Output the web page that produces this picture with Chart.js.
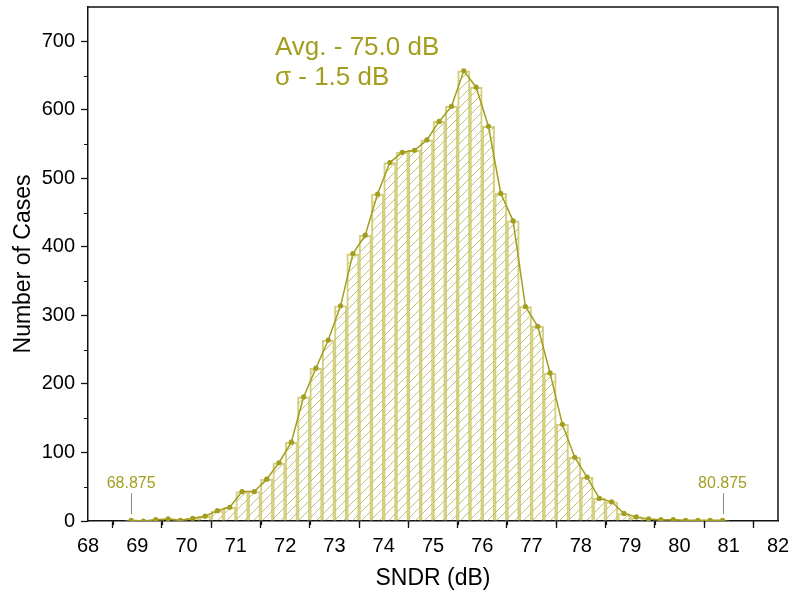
<!DOCTYPE html>
<html>
<head>
<meta charset="utf-8">
<script src="https://cdn.jsdelivr.net/npm/chart.js@4/dist/chart.umd.min.js"></script>
<style>
  html, body { margin: 0; padding: 0; background: #ffffff; }
  #wrap { width: 794px; height: 597px; }
</style>
</head>
<body>
<div id="wrap"><canvas id="c" width="794" height="597"></canvas></div>
<script>
// SNDR histogram: bin centres (dB) and number of cases per 0.25 dB bin
const binCenters = [68.875, 69.125, 69.375, 69.625, 69.875, 70.125, 70.375, 70.625, 70.875,
  71.125, 71.375, 71.625, 71.875, 72.125, 72.375, 72.625, 72.875, 73.125, 73.375,
  73.625, 73.875, 74.125, 74.375, 74.625, 74.875, 75.125, 75.375, 75.625, 75.875,
  76.125, 76.375, 76.625, 76.875, 77.125, 77.375, 77.625, 77.875, 78.125, 78.375,
  78.625, 78.875, 79.125, 79.375, 79.625, 79.875, 80.125, 80.375, 80.625, 80.875];
const caseCounts = [1, 0, 2, 3, 1, 4, 7, 15, 20,
  43, 43, 61, 85, 115, 181, 223, 264, 314, 390,
  417, 477, 523, 538, 541, 556, 583, 605, 657, 633,
  576, 478, 438, 313, 284, 216, 141, 93, 64, 33,
  28, 11, 6, 3, 2, 2, 1, 1, 1, 1];
const xTickRange = [68, 82];
const yTickRange = [0, 750];
const avgText = 'Avg. - 75.0 dB';
const sigmaText = '\u03c3 - 1.5 dB';
const edgeLabels = ['68.875', '80.875'];

const OLIVE = '#a39e1f';
const FONT = "'Liberation Sans', Arial, sans-serif";

// diagonal hatch fill for the bars
function makeHatch() {
  const s = 9;
  const p = document.createElement('canvas');
  p.width = s; p.height = s;
  const g = p.getContext('2d');
  g.strokeStyle = 'rgba(176,170,60,0.9)';
  g.lineWidth = 0.8;
  g.beginPath();
  g.moveTo(0, s); g.lineTo(s, 0);
  g.moveTo(-1, 1); g.lineTo(1, -1);
  g.moveTo(s - 1, s + 1); g.lineTo(s + 1, s - 1);
  g.stroke();
  return document.getElementById('c').getContext('2d').createPattern(p, 'repeat');
}

const barPoints = binCenters.map((x, i) => ({ x: x, y: caseCounts[i] }));
const linePoints = binCenters.map((x, i) => ({ x: x, y: caseCounts[i] }));

// frame, minor ticks and text annotations
const decorations = {
  id: 'decorations',
  afterDraw(chart) {
    const { ctx, chartArea: a, scales: { x, y } } = chart;
    ctx.save();
    ctx.strokeStyle = '#111';
    ctx.lineWidth = 1.5;
    ctx.beginPath();
    ctx.moveTo(a.left, a.top); ctx.lineTo(a.right, a.top); ctx.lineTo(a.right, a.bottom);
    ctx.stroke();

    ctx.lineWidth = 1.2;
    ctx.beginPath();
    for (let v = xTickRange[0] + 0.5; v < xTickRange[1]; v += 1) {
      const px = Math.round(x.getPixelForValue(v)) + 0.5;
      ctx.moveTo(px, a.bottom); ctx.lineTo(px, a.bottom + 4);
    }
    for (let v = 50; v < yTickRange[1]; v += 100) {
      const py = Math.round(y.getPixelForValue(v)) + 0.5;
      ctx.moveTo(a.left, py); ctx.lineTo(a.left - 4, py);
    }
    ctx.stroke();

    // mean / sigma text
    ctx.fillStyle = OLIVE;
    ctx.font = '26px ' + FONT;
    ctx.textAlign = 'left';
    ctx.textBaseline = 'alphabetic';
    ctx.fillText(avgText, 275, 55);
    ctx.fillText(sigmaText, 275, 85);

    // first / last bin markers
    const ends = [binCenters[0], binCenters[binCenters.length - 1]];
    ctx.font = '16px ' + FONT;
    ctx.textAlign = 'center';
    ends.forEach((v, i) => {
      const px = x.getPixelForValue(v);
      ctx.fillStyle = OLIVE;
      ctx.fillText(edgeLabels[i], px, 488);
      ctx.strokeStyle = '#8a8a8a';
      ctx.lineWidth = 1;
      ctx.beginPath();
      ctx.moveTo(Math.round(px) + 0.5, 493);
      ctx.lineTo(Math.round(px) + 0.5, 514);
      ctx.stroke();
    });
    ctx.restore();
  }
};

function noEdgePadding(s) {
  s.paddingTop = 0; s.paddingBottom = 0; s.paddingLeft = 0; s.paddingRight = 0;
}

new Chart(document.getElementById('c'), {
  type: 'bar',
  data: {
    datasets: [
      {
        type: 'line',
        data: linePoints,
        borderColor: OLIVE,
        backgroundColor: OLIVE,
        borderWidth: 1.5,
        pointRadius: 2.6,
        pointBorderWidth: 0,
        tension: 0,
        order: 0
      },
      {
        type: 'bar',
        data: barPoints,
        backgroundColor: makeHatch(),
        borderColor: '#d4d083',
        borderWidth: 1.4,
        borderSkipped: 'start',
        barPercentage: 1,
        categoryPercentage: 1,
        order: 1
      }
    ]
  },
  options: {
    responsive: false,
    animation: false,
    events: [],
    layout: { padding: { top: 7, right: 16, bottom: 0, left: 0 } },
    plugins: { legend: { display: false }, tooltip: { enabled: false } },
    scales: {
      x: {
        type: 'linear',
        min: xTickRange[0],
        max: xTickRange[1],
        offset: false,
        afterFit(s) { s.height = 76; noEdgePadding(s); },
        ticks: { stepSize: 1, color: '#000', font: { family: FONT, size: 20 }, padding: 6, maxRotation: 0, autoSkip: false },
        grid: { display: true, drawOnChartArea: false, drawTicks: true, tickLength: 7, tickColor: '#111', tickWidth: 1.3 },
        border: { display: true, color: '#111', width: 1.5 },
        title: { display: true, text: 'SNDR (dB)', color: '#000', font: { family: FONT, size: 23, lineHeight: 1.2 }, padding: { top: 0, bottom: 5 } }
      },
      y: {
        type: 'linear',
        min: yTickRange[0],
        max: yTickRange[1],
        afterFit(s) { s.width = 88; noEdgePadding(s); },
        afterBuildTicks(s) { s.ticks = s.ticks.filter(t => t.value % 100 === 0); },
        ticks: { stepSize: 100, color: '#000', font: { family: FONT, size: 20 }, padding: 6 },
        grid: { display: true, drawOnChartArea: false, drawTicks: true, tickLength: 7, tickColor: '#111', tickWidth: 1.3 },
        border: { display: true, color: '#111', width: 1.5 },
        title: { display: true, text: 'Number of Cases', color: '#000', font: { family: FONT, size: 23, lineHeight: 1.2 }, padding: { top: 10, bottom: 0 } }
      }
    }
  },
  plugins: [decorations]
});
</script>
</body>
</html>
